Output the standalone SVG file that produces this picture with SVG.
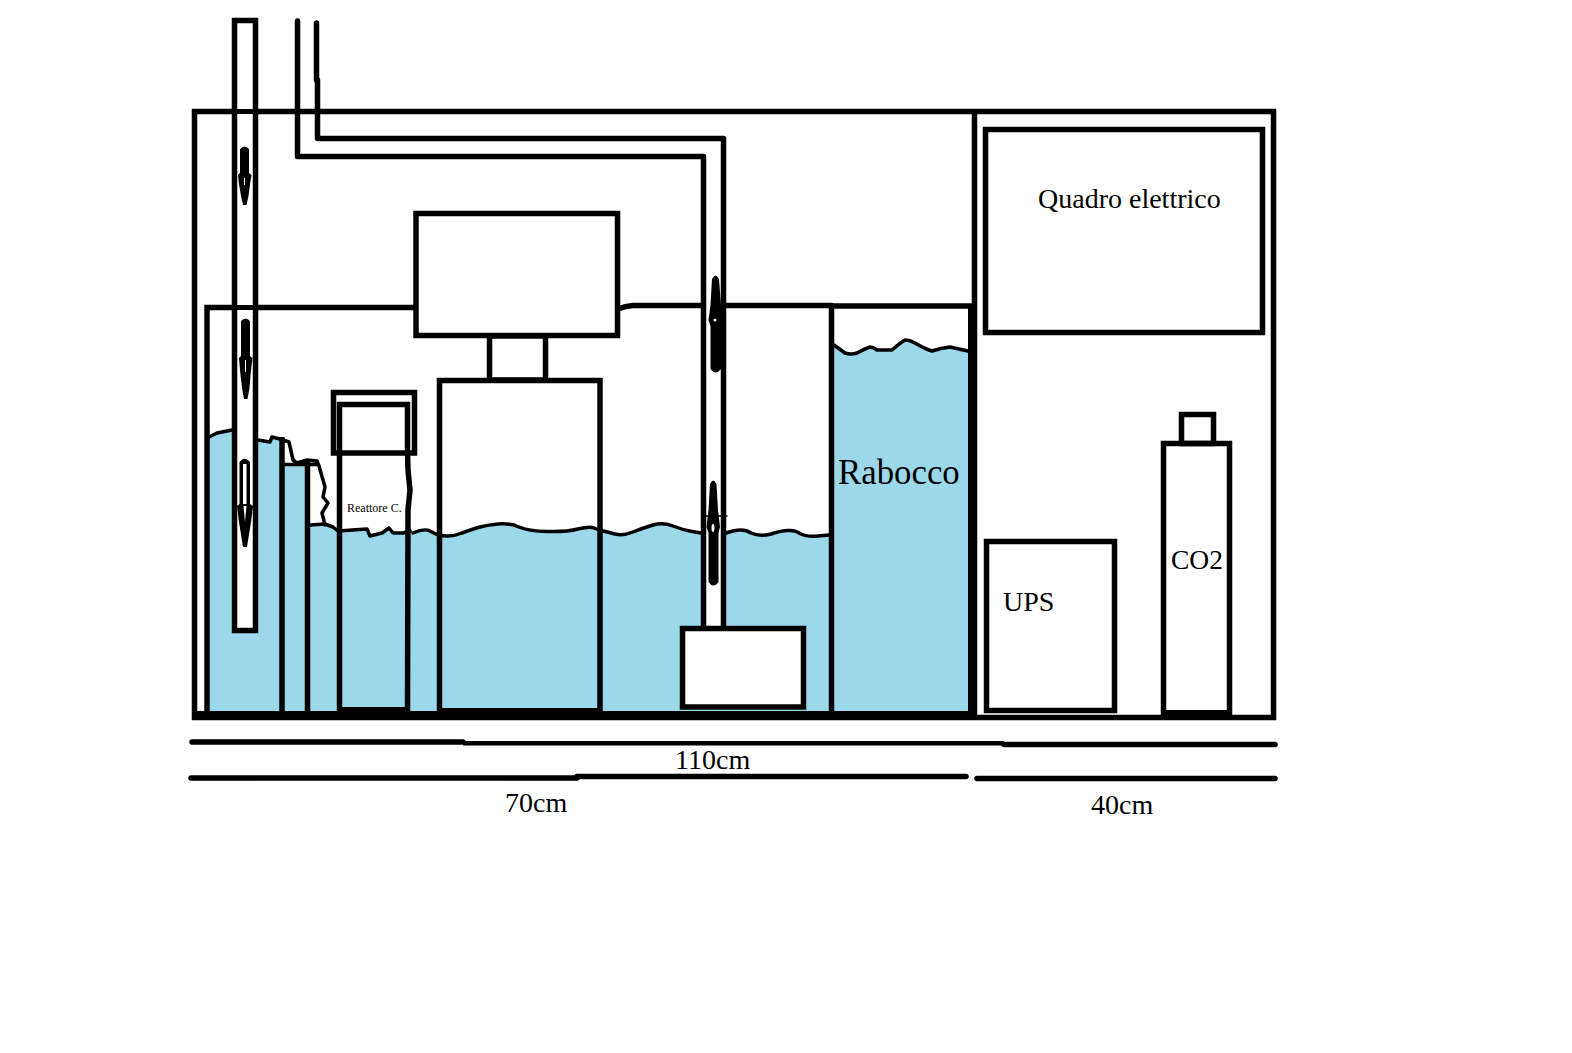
<svg xmlns="http://www.w3.org/2000/svg" width="1572" height="1053" viewBox="0 0 1572 1053">
<style>
.b{fill:none;stroke:#000;stroke-width:5.5}
.r{fill:none;stroke:#000;stroke-width:5.500;stroke-linecap:round;stroke-linejoin:round}
.w{fill:#fff;stroke:#000;stroke-width:5.500}
.wave{fill:none;stroke:#000;stroke-width:3.500;stroke-linejoin:round;stroke-linecap:round}
.water{fill:#9bd8ea}
.k{fill:#000;stroke:none}
.h{fill:#fff;stroke:none}
text{font-family:"Liberation Serif","Times New Roman",serif;fill:#000;font-size:28px}
</style>
<rect width="1572" height="1053" fill="#fff"/>
<g id="water">
<path class="water" d="M209 437L217 433L232 430L258 440L270 442L272 437L282 439V464H305V525H325L333 527L338 531L367 529L370 536L382 533L389 528L393 533L403 533L413 533Q425 528 430 531Q435 534 438.500 535Q442 536 448 536Q455 536 462 533Q470 530 478 527.500Q487 525 498 524Q510 523 519 527Q528 531 547 531.500Q567 532 578 529Q590 526 594 528Q598 530 603 531Q608 532 615 534Q623 536 633 532Q643 528 653 525Q663 522 673 526Q683 530 692 531.500Q701 533 726 533Q743 527 751 533Q760 537 771 534Q783 530 789 530.500Q795 530 801 534Q807 537 818 536L829 535V712H209Z"/>
<path class="water" d="M834 345L845 353Q851 355 857 353Q864 349 870 347Q873 347 877 350L892 350Q900 343 905 340Q910 340 915 343Q925 349 932 351Q941 348 950 347L968 351V712H834Z"/>
</g>
<g id="cabinet">
<rect class="b" x="194.500" y="111.500" width="1079" height="606"/>
<path class="b" d="M974.500 111V717"/>
<path class="k" d="M194 711H977V720H194Z"/>
</g>
<g id="sump">
<path class="b" d="M207 712V307.500H416"/>
<path class="wave" style="stroke-width:5.500;stroke-linecap:butt" d="M618 309Q625 306 633 305.500H831.500V712"/>
<path class="k" d="M968 304H977V712H968Z"/>
<path class="b" d="M831 306H972"/>
<path class="b" d="M282 437V713"/>
<path class="b" d="M307.500 460V713"/>
<path class="wave" d="M209 437L217 433L232 430M258 440L270 442L272 437L280 439L289 442L293 460L297 463L307 460L317 461L319 466L325 487L323 497L328 503L322 513L325 525M282 464.500H317M310 525L325 524L333 527L338 531L367 529L370 536L382 533L389 528L393 533L403 533L410 531M413 533Q425 528 430 531Q435 534 438.500 535Q442 536 448 536Q455 536 462 533Q470 530 478 527.500Q487 525 498 524Q510 523 519 527Q528 531 547 531.500Q567 532 578 529Q590 526 594 528Q598 530 603 531Q608 532 615 534Q623 536 633 532Q643 528 653 525Q663 522 673 526Q683 530 692 531.500L701 533M726 533Q743 527 751 533Q760 537 771 534Q783 530 789 530.500Q795 530 801 534Q807 537 818 536L829 535M834 345L845 353Q851 355 857 353Q864 349 870 347Q873 347 877 350L892 350Q900 343 905 340Q910 340 915 343Q925 349 932 351Q941 348 950 347L968 351"/>
</g>
<g id="skimmer-tube">
<rect class="w" x="234.500" y="20.500" width="21" height="610"/>
<path class="k" d="M232 109H258V114H232ZM232 305H258V310H232Z"/>
</g>
<g id="reactor">
<path class="r" style="stroke-linecap:butt;stroke-linejoin:miter" d="M339.500 712V404.500H407.500V451L408 470L410 490L408 510L407.500 712"/>
<rect class="b" x="333.500" y="392.500" width="81" height="60.500"/>
<path class="k" d="M338 707H410V712H338Z"/>
<text x="347" y="512" style="font-size:12px">Reattore C.</text>
</g>
<g id="head-box">
<rect class="w" x="416" y="213.500" width="201.500" height="122"/>
</g>
<g id="neck">
<rect class="w" x="489.500" y="336" width="56" height="44"/>
</g>
<g id="main-column">
<path class="b" d="M439.500 712V380.500H600V712"/>
<path class="k" d="M438 708H602V712H438Z"/>
</g>
<g id="connectors">
<path class="h" d="M704 160H723V627H704Z"/>
<path class="r" d="M297.500 21V156.500H703.500V627"/>
<path class="r" d="M316.500 23V80M317.500 80V138.500H723.500V627"/>
<path class="wave" style="stroke-width:1.500" d="M702 516H727"/>
</g>
<g id="pump">
<rect class="w" x="682.500" y="628.500" width="121" height="78.500"/>
</g>
<g id="arrows">
<path class="k" d="M240 149Q244.500 144 249 149V173L251.500 175L250 184L248.500 196L246.500 205H243L241 196L239 184L238 175L240 173Z"/>
<path class="h" d="M244 178h1v7h-1Z"/>
<path class="k" d="M241 321Q245.500 316 250 321V356L252.500 358L251 370L249.500 388L247.500 399H244L242 388L240 370L239 358L241 356Z"/>
<path class="h" d="M245 360h1v12h-1Z"/>
<path class="k" d="M239.500 462Q244.500 455 250 462V504L253 506L251 522L247 547H243L239 522L237 506L239.500 504Z"/>
<path class="h" d="M243 464H246.500V504H243ZM243.500 506H246.500L245 522Z"/>
<path class="k" d="M712 279Q715.500 272 719 279L721 305L723 320L721 326V369Q715.500 376 710.500 369V326L708.500 320L710.500 305Z"/>
<circle class="h" cx="715" cy="320" r="1.500"/>
<path class="k" d="M710 484Q713 477 716.500 484L718 510L720 527L718.500 533V582Q713.500 589 708.500 582V533L706.500 527L708.500 510Z"/>
<ellipse class="h" cx="713" cy="528" rx="1.500" ry="4"/>
</g>
<g id="rabocco">
<text x="838" y="484" style="font-size:34.800px">Rabocco</text>
</g>
<g id="quadro">
<rect class="b" x="985.500" y="129.500" width="277" height="203"/>
<text x="1038" y="208">Quadro elettrico</text>
</g>
<g id="ups">
<rect class="b" x="986.500" y="541.500" width="128" height="169"/>
<text x="1003" y="611">UPS</text>
</g>
<g id="co2">
<rect class="b" x="1181.500" y="414.500" width="32" height="29"/>
<rect class="b" x="1163.500" y="443.500" width="66" height="272"/>
<path class="k" d="M1161 710H1232V716H1161Z"/>
<text x="1171" y="569" style="font-size:27.500px">CO2</text>
</g>
<g id="dimensions">
<path class="r" d="M192 742H463"/>
<path class="k" d="M463 741H1004V745.500H463Z"/>
<path class="r" d="M1004 744.500H1275"/>
<path class="r" d="M191 778H577"/>
<path class="r" d="M577 776.500H966"/>
<path class="r" d="M977 778.500H1275"/>
<text x="675" y="769">110cm</text>
<text x="505" y="812">70cm</text>
<text x="1091" y="814">40cm</text>
</g>
</svg>
